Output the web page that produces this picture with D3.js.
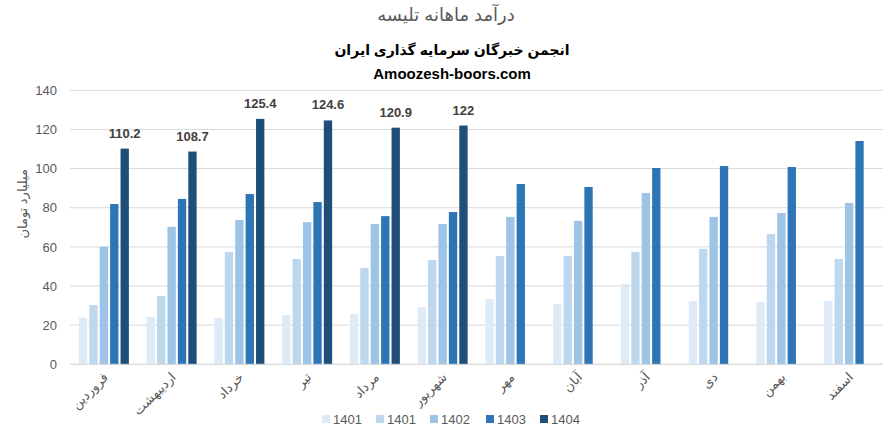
<!DOCTYPE html>
<html><head><meta charset="utf-8">
<script src="https://cdn.jsdelivr.net/npm/d3@7"></script>
<style>
body{margin:0;background:#fff;}
text{font-family:"Liberation Sans","DejaVu Sans",sans-serif;}
</style></head>
<body><svg id="c" width="893" height="437"></svg>
<script>
const months = ["فروردین","اردیبهشت","خرداد","تیر","مرداد","شهریور","مهر","آبان","آذر","دی","بهمن","اسفند"];
const seriesNames = ["1401","1401","1402","1403","1404"];
const s0 = [23.8,24.2,23.7,25.2,25.7,29.3,33.4,30.8,41.0,32.3,31.8,32.3];
const s1 = [30.3,34.9,57.4,53.8,49.2,53.3,55.3,55.3,57.4,59.0,66.6,53.8];
const s2 = [60.1,70.2,73.7,72.6,71.7,71.7,75.3,73.3,87.5,75.3,77.3,82.4];
const s3 = [81.9,84.5,87.0,82.9,75.7,77.8,92.1,90.6,100.3,101.3,100.8,114.1];
const s4 = [110.2,108.7,125.4,124.6,120.9,122,null,null,null,null,null,null];
const yTicks = [0,20,40,60,80,100,120,140];
const colors = ["#deebf7","#bdd7ee","#9dc3e6","#2e75b6","#1f4e79"];
const allSeries = [s0,s1,s2,s3,s4];

const svg = d3.select("#c");
const m = {l:70, r:10, t:90, b:73};
const x = d3.scaleBand().domain(d3.range(months.length)).range([m.l, 883]).paddingInner(0).paddingOuter(0);
const xs = d3.scaleBand().domain(d3.range(5)).range([0, 50]).paddingInner(0.2);
const y = d3.scaleLinear().domain([0,140]).range([364.3, 90.3]);

// gridlines
svg.append("g").selectAll("line").data(yTicks).join("line")
  .attr("x1", m.l).attr("x2", 883)
  .attr("y1", d=>y(d)).attr("y2", d=>y(d))
  .attr("stroke", "#d9d9d9").attr("stroke-width", 1);

// y axis labels
const ya = svg.append("g").attr("transform", `translate(${m.l},0)`)
  .call(d3.axisLeft(y).tickValues(yTicks).tickSize(0).tickPadding(13));
ya.select(".domain").remove();
ya.selectAll("text").attr("font-size", 13).attr("fill", "#595959")
  .style("font-family", '"Liberation Sans","DejaVu Sans",sans-serif');

// bars
allSeries.forEach((s, si) => {
  svg.append("g").selectAll("rect").data(s.map((v,i)=>({v,i})).filter(d=>d.v!=null)).join("rect")
    .attr("x", d => x(d.i) + x.bandwidth()/2 - 25 + xs(si))
    .attr("width", xs.bandwidth())
    .attr("y", d => y(d.v))
    .attr("height", d => y(0) - y(d.v))
    .attr("fill", colors[si]);
});

// data labels for 1404
svg.append("g").selectAll("text").data(s4.map((v,i)=>({v,i})).filter(d=>d.v!=null)).join("text")
  .attr("x", d => x(d.i) + x.bandwidth()/2 - 25 + xs(4) + xs.bandwidth()/2)
  .attr("y", d => y(d.v) - 11)
  .attr("text-anchor", "middle")
  .attr("font-size", 13).attr("font-weight", "bold").attr("fill", "#404040")
  .text(d => d.v);

// x axis baseline
svg.append("line").attr("x1", m.l).attr("x2", 883).attr("y1", y(0)).attr("y2", y(0))
  .attr("stroke", "#d9d9d9");

// x labels
svg.append("g").selectAll("text").data(months).join("text")
  .attr("transform", (d,i) => `translate(${x(i)+x.bandwidth()/2+5},${378}) rotate(-45)`)
  .attr("text-anchor", "end")
  .attr("font-size", 13).attr("fill", "#595959")
  .text(d => d);

// y axis title
svg.append("text")
  .attr("transform", `translate(27,${y(82)}) rotate(-90)`)
  .attr("text-anchor", "middle")
  .attr("font-size", 13).attr("fill", "#595959")
  .text("میلیارد تومان");

// titles
svg.append("text").attr("x", 446).attr("y", 21).attr("text-anchor", "middle")
  .attr("font-size", 18).attr("fill", "#595959").text("درآمد ماهانه تلیسه");
svg.append("text").attr("x", 452).attr("y", 55).attr("text-anchor", "middle")
  .attr("font-size", 14).attr("font-weight", "bold").attr("fill", "#000").text("انجمن خبرگان سرمایه گذاری ایران");
svg.append("text").attr("x", 452).attr("y", 79).attr("text-anchor", "middle")
  .attr("font-size", 15).attr("font-weight", "bold").attr("fill", "#000").text("Amoozesh-boors.com");

// legend
const legX = [322, 376, 430, 486, 540];
const lg = svg.append("g");
seriesNames.forEach((n, i) => {
  lg.append("rect").attr("x", legX[i]).attr("y", 415).attr("width", 8).attr("height", 8).attr("fill", colors[i]);
  lg.append("text").attr("x", legX[i] + 11).attr("y", 424).attr("font-size", 13).attr("fill", "#595959").text(n);
});
</script></body></html>
